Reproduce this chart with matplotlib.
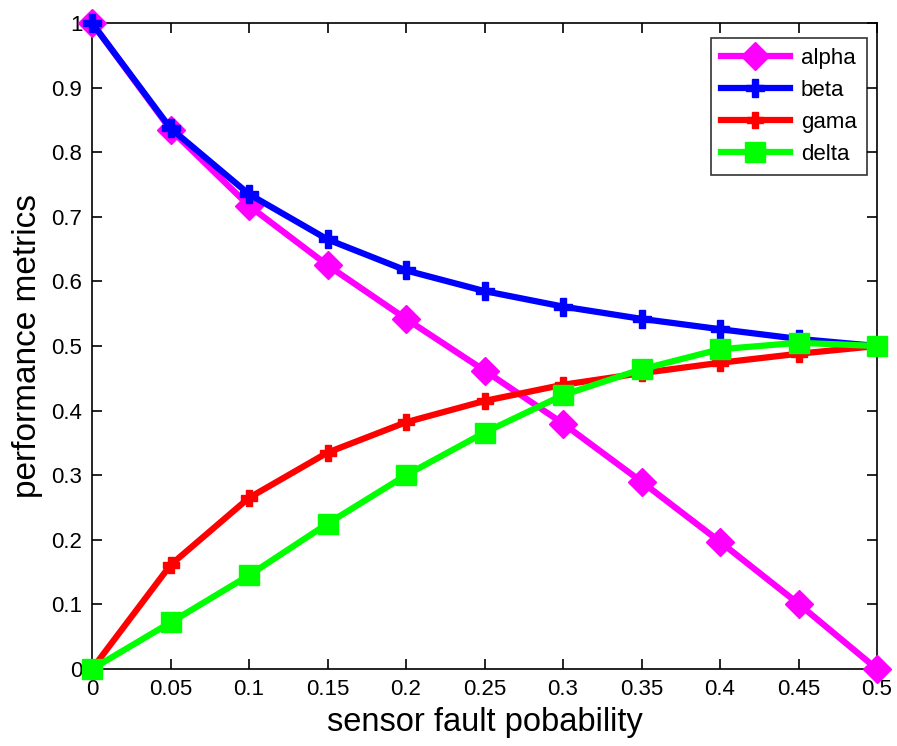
import matplotlib
matplotlib.use("Agg")
import matplotlib.pyplot as plt

plt.rcParams['font.family'] = ['Liberation Sans', 'DejaVu Sans']

# sensor fault probability
x = [0, 0.05, 0.1, 0.15, 0.2, 0.25, 0.3, 0.35, 0.4, 0.45, 0.5]
alpha = [1.0, 0.835, 0.717, 0.625, 0.542, 0.462, 0.380, 0.290, 0.197, 0.101, 0.0]
beta = [1.0, 0.837, 0.735, 0.665, 0.617, 0.585, 0.561, 0.542, 0.526, 0.511, 0.5]
gama = [0.0, 0.161, 0.265, 0.335, 0.382, 0.415, 0.440, 0.458, 0.474, 0.488, 0.5]
delta = [0.0, 0.072, 0.145, 0.225, 0.300, 0.366, 0.424, 0.464, 0.495, 0.505, 0.5]

xticks = [0, 0.05, 0.1, 0.15, 0.2, 0.25, 0.3, 0.35, 0.4, 0.45, 0.5]
xtick_labels = ['0', '0.05', '0.1', '0.15', '0.2', '0.25', '0.3', '0.35', '0.4', '0.45', '0.5']
yticks = [0, 0.1, 0.2, 0.3, 0.4, 0.5, 0.6, 0.7, 0.8, 0.9, 1]
ytick_labels = ['0', '0.1', '0.2', '0.3', '0.4', '0.5', '0.6', '0.7', '0.8', '0.9', '1']

fig = plt.figure(figsize=(8.97, 7.46), dpi=100)
ax = fig.add_axes([0.1026, 0.1032, 0.8751, 0.866])

ax.plot(x, alpha, color='#ff00ff', lw=4.5, marker='D', ms=14, label='alpha', clip_on=False, zorder=3)
ax.plot(x, beta, color='#0000ff', lw=4.5, marker='P', ms=13, label='beta', clip_on=False, zorder=3)
ax.plot(x, gama, color='#ff0000', lw=4.5, marker='P', ms=11, label='gama', clip_on=False, zorder=3)
ax.plot(x, delta, color='#00ff00', lw=4.5, marker='s', ms=15, label='delta', clip_on=False, zorder=4)

ax.set_xlim(0, 0.5)
ax.set_ylim(0, 1)
ax.set_xticks(xticks)
ax.set_xticklabels(xtick_labels)
ax.set_yticks(yticks)
ax.set_yticklabels(ytick_labels)
ax.tick_params(direction='in', top=True, right=True, length=7, width=1.2, labelsize=16, pad=7)
for s in ax.spines.values():
    s.set_linewidth(1.2)

ax.set_xlabel('sensor fault pobability', fontsize=23.5, labelpad=5)
ax.set_ylabel('performance metrics', fontsize=24, labelpad=6)

leg = ax.legend(loc='upper right', fontsize=16, frameon=True, fancybox=False,
                edgecolor='black', handlelength=3.1, borderpad=0.45, labelspacing=0.5,
                handletextpad=0.5, borderaxespad=0, bbox_to_anchor=(0.987, 0.977))
leg.get_frame().set_linewidth(1.2)

fig.savefig('out.png', dpi=100)
